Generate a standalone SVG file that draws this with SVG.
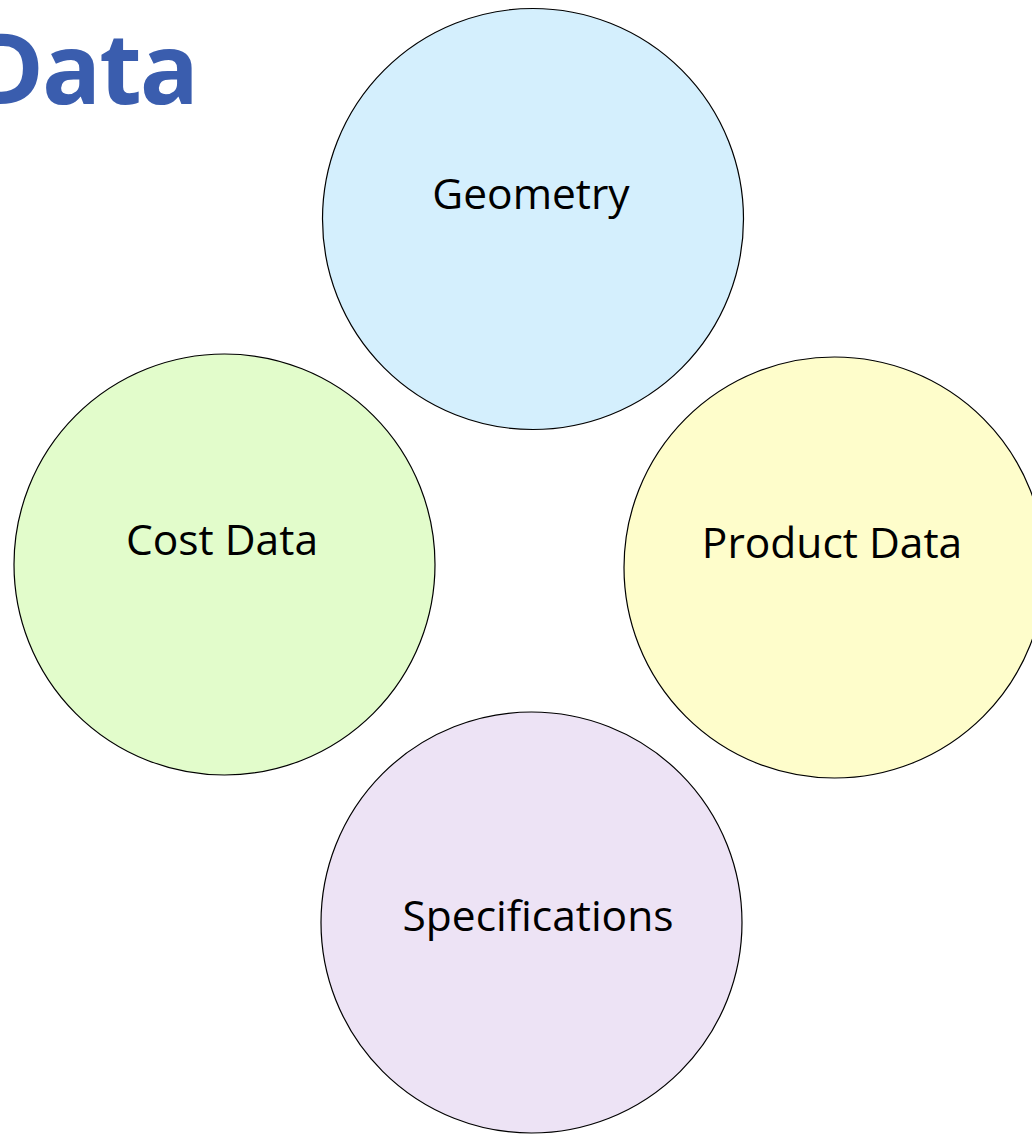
<svg xmlns="http://www.w3.org/2000/svg" width="1032" height="1134" viewBox="0 0 1032 1134">
<style>
.c{stroke:#000;stroke-width:1.2}
.t{font-family:"Open Sans","Noto Sans",sans-serif;font-size:42.5px;fill:#000;text-anchor:middle}
.title{font-family:"Open Sans","Noto Sans",sans-serif;font-weight:bold;font-size:98px;letter-spacing:-2px;fill:#3a5dae;text-anchor:end}
</style>
<rect width="1032" height="1134" fill="#fff"/>
<text class="title" x="197" y="104">Data</text>
<g id="geometry"><circle class="c" cx="533" cy="219" r="210.5" fill="#d4effd"/><text class="t" x="531" y="209">Geometry</text></g>
<g id="cost-data"><circle class="c" cx="224.5" cy="564.5" r="210.5" fill="#e2fccb"/><text class="t" x="222" y="555">Cost Data</text></g>
<g id="product-data"><circle class="c" cx="834.5" cy="567.5" r="210.5" fill="#fefdcb"/><text class="t" x="832" y="558">Product Data</text></g>
<g id="specifications"><circle class="c" cx="531.5" cy="922.5" r="210.5" fill="#ede3f5"/><text class="t" x="538" y="931">Specifications</text></g>
<g id="connectors"></g>
</svg>
